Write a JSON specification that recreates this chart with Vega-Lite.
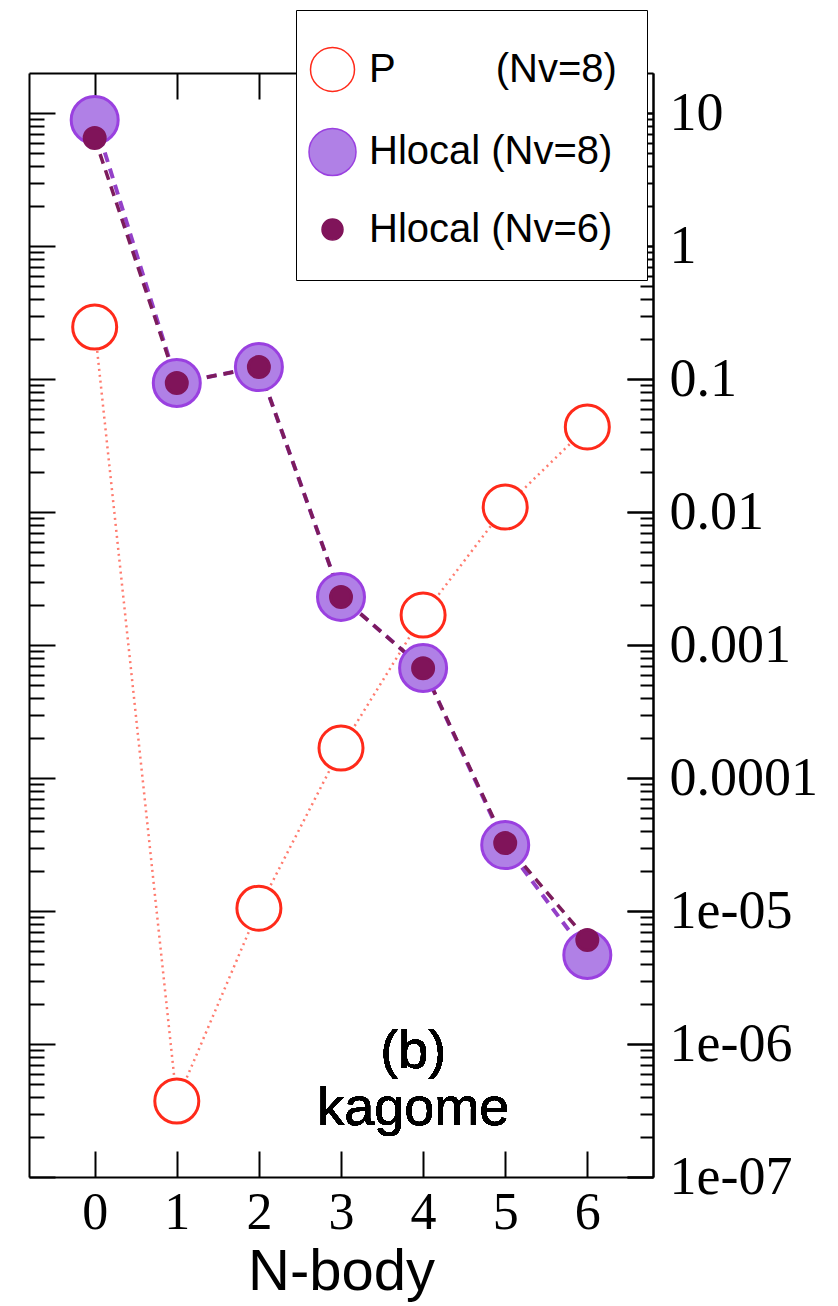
{
  "$schema": "https://vega.github.io/schema/vega-lite/v6.json",
  "autosize": "none",
  "width": 624,
  "height": 1104,
  "padding": {"left": 29, "top": 73, "right": 185, "bottom": 129},
  "background": "white",
  "config": {
    "view": {"stroke": null},
    "axis": {"domainColor": "black", "domainWidth": 2, "tickColor": "black", "tickWidth": 2, "grid": false, "labelColor": "black", "titleColor": "black"}
  },
  "data": {
    "values": [
      {"n": 0, "value": 0.246, "series": "P8"},
      {"n": 1, "value": 3.72e-7, "series": "P8"},
      {"n": 2, "value": 1.05e-5, "series": "P8"},
      {"n": 3, "value": 1.68e-4, "series": "P8"},
      {"n": 4, "value": 1.68e-3, "series": "P8"},
      {"n": 5, "value": 0.0109, "series": "P8"},
      {"n": 6, "value": 0.0436, "series": "P8"},
      {"n": 0, "value": 8.86, "series": "H8"},
      {"n": 1, "value": 0.0933, "series": "H8"},
      {"n": 2, "value": 0.123, "series": "H8"},
      {"n": 3, "value": 2.3e-3, "series": "H8"},
      {"n": 4, "value": 6.71e-4, "series": "H8"},
      {"n": 5, "value": 3.13e-5, "series": "H8"},
      {"n": 6, "value": 4.67e-6, "series": "H8"},
      {"n": 0, "value": 6.49, "series": "H6"},
      {"n": 1, "value": 0.0933, "series": "H6"},
      {"n": 2, "value": 0.123, "series": "H6"},
      {"n": 3, "value": 2.3e-3, "series": "H6"},
      {"n": 4, "value": 6.7e-4, "series": "H6"},
      {"n": 5, "value": 3.24e-5, "series": "H6"},
      {"n": 6, "value": 6.05e-6, "series": "H6"}
    ]
  },
  "resolve": {"axis": {"x": "independent", "y": "independent"}},
  "layer": [
    {
      "transform": [{"filter": "datum.series == 'P8'"}],
      "mark": {"type": "line", "stroke": "#ff5a4a", "strokeWidth": 2.5, "strokeDash": [2, 4], "opacity": 0.8},
      "encoding": {
        "x": {"field": "n", "type": "quantitative", "scale": {"domain": [-0.8, 6.8], "nice": false, "zero": false},
          "axis": {"orient": "top", "values": [0, 1, 2, 3, 4, 5, 6], "tickSize": -26, "labels": false, "title": null}},
        "y": {"field": "value", "type": "quantitative", "scale": {"type": "log", "domain": [1e-7, 20], "nice": false},
          "axis": {"orient": "left", "labels": false, "title": null,
            "values": [1e-7,2e-7,3e-7,4e-7,5e-7,6e-7,7e-7,8e-7,9e-7,1e-6,2e-6,3e-6,4e-6,5e-6,6e-6,7e-6,8e-6,9e-6,1e-5,2e-5,3e-5,4e-5,5e-5,6e-5,7e-5,8e-5,9e-5,1e-4,2e-4,3e-4,4e-4,5e-4,6e-4,7e-4,8e-4,9e-4,1e-3,2e-3,3e-3,4e-3,5e-3,6e-3,7e-3,8e-3,9e-3,0.01,0.02,0.03,0.04,0.05,0.06,0.07,0.08,0.09,0.1,0.2,0.3,0.4,0.5,0.6,0.7,0.8,0.9,1,2,3,4,5,6,7,8,9,10],
            "tickSize": {"condition": {"test": "abs(log(datum.value)/LN10 - round(log(datum.value)/LN10)) < 0.001", "value": -26}, "value": -15}}}
      }
    },
    {
      "transform": [{"filter": "datum.series == 'H8'"}],
      "mark": {"type": "line", "stroke": "#9440c8", "strokeWidth": 4, "strokeDash": [10, 7]},
      "encoding": {
        "x": {"field": "n", "type": "quantitative", "axis": null},
        "y": {"field": "value", "type": "quantitative",
          "axis": {"orient": "right", "labels": false, "title": null, "domain": true,
            "values": [1e-7,2e-7,3e-7,4e-7,5e-7,6e-7,7e-7,8e-7,9e-7,1e-6,2e-6,3e-6,4e-6,5e-6,6e-6,7e-6,8e-6,9e-6,1e-5,2e-5,3e-5,4e-5,5e-5,6e-5,7e-5,8e-5,9e-5,1e-4,2e-4,3e-4,4e-4,5e-4,6e-4,7e-4,8e-4,9e-4,1e-3,2e-3,3e-3,4e-3,5e-3,6e-3,7e-3,8e-3,9e-3,0.01,0.02,0.03,0.04,0.05,0.06,0.07,0.08,0.09,0.1,0.2,0.3,0.4,0.5,0.6,0.7,0.8,0.9,1,2,3,4,5,6,7,8,9,10],
            "tickSize": {"condition": {"test": "abs(log(datum.value)/LN10 - round(log(datum.value)/LN10)) < 0.001", "value": -26}, "value": -13}}}
      }
    },
    {
      "transform": [{"filter": "datum.series == 'H6'"}],
      "mark": {"type": "line", "stroke": "#7c1c5c", "strokeWidth": 3.5, "strokeDash": [10, 7]},
      "encoding": {
        "x": {"field": "n", "type": "quantitative", "axis": null},
        "y": {"field": "value", "type": "quantitative", "axis": null}
      }
    },
    {
      "mark": {"type": "point", "shape": "circle", "strokeWidth": 3, "opacity": 1, "fillOpacity": 1},
      "encoding": {
        "x": {"field": "n", "type": "quantitative",
          "axis": {"orient": "bottom", "values": [0, 1, 2, 3, 4, 5, 6], "tickSize": -26, "labelFont": "Liberation Serif", "labelFontSize": 52, "labelPadding": 36, "labelFlush": false,
            "title": "N-body", "titleFont": "Liberation Sans", "titleFontSize": 58, "titleFontWeight": "normal", "titlePadding": 5}},
        "y": {"field": "value", "type": "quantitative",
          "axis": {"orient": "right", "title": null, "labelFont": "Liberation Serif", "labelFontSize": 54, "labelPadding": 42, "labelBaseline": "middle",
            "values": [1e-7, 1e-6, 1e-5, 1e-4, 1e-3, 0.01, 0.1, 1, 10],
            "labelExpr": "datum.value < 0.00005 ? '1e-0' + (-round(log(datum.value)/LN10)) : format(datum.value, '~g')",
            "labelOverlap": false,
            "tickSize": -26}},
        "fill": {"field": "series", "type": "nominal",
          "scale": {"domain": ["P8", "H8", "H6"], "range": ["white", "#b080e6", "#80145a"]},
          "legend": {"title": " ", "titleFontSize": 4, "titlePadding": 2.5, "orient": "none", "legendX": 267, "legendY": -63, "padding": 30, "strokeColor": "black", "fillColor": "white",
            "labelFont": "Liberation Sans", "labelFontSize": 40, "labelColor": "black", "labelLimit": 500, "labelOffset": 12, "symbolOffset": -18, "rowPadding": 31, "symbolType": "circle",
            "labelExpr": "datum.value == 'P8' ? 'P\u00a0\u00a0\u00a0\u00a0\u00a0\u00a0\u00a0\u00a0\u00a0(Nv=8)' : datum.value == 'H8' ? 'Hlocal (Nv=8)' : 'Hlocal (Nv=6)'",
            "encode": {"legend": {"update": {"strokeWidth": {"value": 2}}}}}},
        "stroke": {"field": "series", "type": "nominal",
          "scale": {"domain": ["P8", "H8", "H6"], "range": ["#ff2a1a", "#9a40e0", "#80145a"]}, "legend": {"title": " "}},
        "size": {"field": "series", "type": "nominal",
          "scale": {"type": "ordinal", "domain": ["P8", "H8", "H6"], "range": [1936, 2209, 441]}, "legend": {"title": " "}}
      }
    },
    {
      "mark": {"type": "text", "text": "(b)", "font": "Liberation Sans", "fontSize": 54, "align": "center", "baseline": "middle", "color": "black"},
      "encoding": {
        "x": {"datum": 3.88, "type": "quantitative", "axis": null},
        "y": {"datum": 8.7e-7, "type": "quantitative", "axis": null}
      }
    },
    {
      "mark": {"type": "text", "text": "kagome", "font": "Liberation Sans", "fontSize": 54, "align": "center", "baseline": "middle", "color": "black"},
      "encoding": {
        "x": {"datum": 3.88, "type": "quantitative", "axis": null},
        "y": {"datum": 3.25e-7, "type": "quantitative", "axis": null}
      }
    }
  ]
}
